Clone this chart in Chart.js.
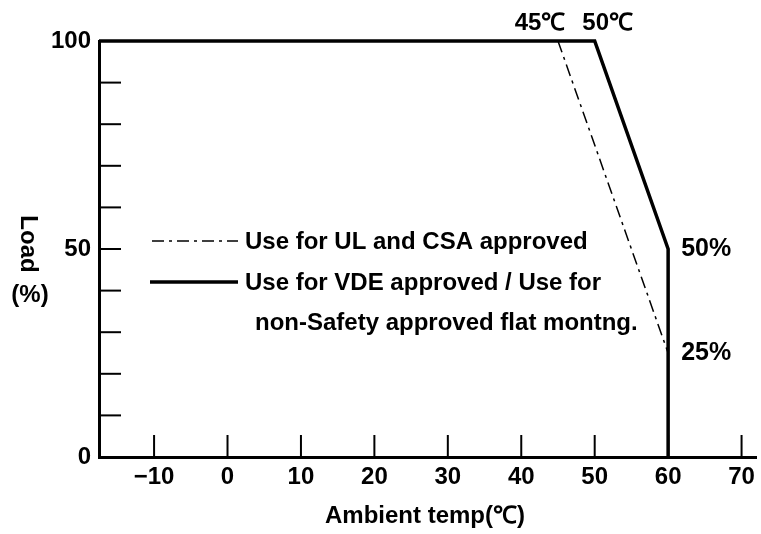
<!DOCTYPE html>
<html>
<head>
<meta charset="utf-8">
<script src="https://cdn.jsdelivr.net/npm/chart.js@4.4.1/dist/chart.umd.min.js"></script>
<style>
  html, body { margin: 0; padding: 0; background: #fff; }
  #wrap { width: 761px; height: 534px; }
</style>
</head>
<body>
<div id="wrap"><canvas id="derating" width="761" height="534"></canvas></div>
<script>
// data
const ulTemps = [45, 60, 60];
const ulLoad = [100, 25, 0];
const vdeTemps = [-17.5, 50, 60, 60];
const vdeLoad = [100, 100, 50, 0];
const xTicks = [-10, 0, 10, 20, 30, 40, 50, 60, 70];
const yTicks = [0, 10, 20, 30, 40, 50, 60, 70, 80, 90, 100];
const yLabels = [0, 50, 100];

const FONT = '"Liberation Sans", Arial, sans-serif';

function toPoints(xs, ys) {
    return xs.map((x, i) => ({ x: x, y: ys[i] }));
}

// inward ticks, labels and legend drawn over the chart
const extras = {
    id: 'extras',
    afterDraw(chart) {
        const ctx = chart.ctx;
        const xs = chart.scales.x, ys = chart.scales.y;
        const area = chart.chartArea;
        ctx.save();
        ctx.strokeStyle = '#000';
        ctx.lineWidth = 2;
        xTicks.forEach(v => {
            const px = xs.getPixelForValue(v);
            ctx.beginPath();
            ctx.moveTo(px, area.bottom);
            ctx.lineTo(px, area.bottom - 22);
            ctx.stroke();
        });
        yTicks.forEach(v => {
            if (v === 0 || v === 100) return;
            const py = ys.getPixelForValue(v);
            ctx.beginPath();
            ctx.moveTo(area.left, py);
            ctx.lineTo(area.left + 22, py);
            ctx.stroke();
        });

        ctx.fillStyle = '#000';
        ctx.font = 'bold 24px ' + FONT;
        ctx.textBaseline = 'middle';
        ctx.textAlign = 'center';
        ctx.fillText('45\u2103', xs.getPixelForValue(45) - 18, area.top - 18);
        ctx.fillText('50\u2103', xs.getPixelForValue(50) + 13, area.top - 18);

        ctx.textAlign = 'left';
        ctx.font = 'bold 25px ' + FONT;
        ctx.fillText('50%', xs.getPixelForValue(60) + 13, ys.getPixelForValue(50));
        ctx.fillText('25%', xs.getPixelForValue(60) + 13, ys.getPixelForValue(25));

        // legend
        ctx.lineWidth = 1.5;
        ctx.setLineDash([12, 5, 3, 5]);
        ctx.beginPath();
        ctx.moveTo(152, 241);
        ctx.lineTo(238, 241);
        ctx.stroke();
        ctx.setLineDash([]);
        ctx.lineWidth = 3.5;
        ctx.beginPath();
        ctx.moveTo(150, 282);
        ctx.lineTo(238, 282);
        ctx.stroke();
        ctx.font = 'bold 24px ' + FONT;
        ctx.fillText('Use for UL and CSA approved', 245, 242);
        ctx.fillText('Use for VDE approved / Use for', 245, 283);
        ctx.fillText('non-Safety approved flat montng.', 255, 323);

        // axis titles
        ctx.textAlign = 'center';
        ctx.font = 'bold 24px ' + FONT;
        ctx.fillText('Ambient temp(\u2103)', 425, 516);
        ctx.fillText('(%)', 30, 295);
        ctx.save();
        ctx.translate(28, 244);
        ctx.rotate(Math.PI / 2);
        ctx.fillText('Load', 0, 0);
        ctx.restore();
        ctx.restore();
    }
};

new Chart(document.getElementById('derating').getContext('2d'), {
    type: 'scatter',
    data: {
        datasets: [
            {
                label: 'Use for UL and CSA approved',
                data: toPoints(ulTemps, ulLoad),
                showLine: true,
                clip: false,
                borderColor: '#000',
                borderWidth: 1.5,
                borderDash: [12, 5, 3, 5],
                pointRadius: 0,
                tension: 0
            },
            {
                label: 'Use for VDE approved / Use for non-Safety approved flat montng.',
                data: toPoints(vdeTemps, vdeLoad),
                showLine: true,
                clip: false,
                borderColor: '#000',
                borderWidth: 3.5,
                pointRadius: 0,
                tension: 0
            }
        ]
    },
    options: {
        responsive: false,
        animation: false,
        layout: { padding: { top: 41, right: 4, left: 0, bottom: 0 } },
        plugins: {
            legend: { display: false },
            tooltip: { enabled: false }
        },
        scales: {
            x: {
                type: 'linear',
                min: -17.5,
                max: 72,
                afterBuildTicks: s => { s.ticks = xTicks.map(v => ({ value: v })); },
                afterFit: s => { s.height = 77; },
                grid: { drawOnChartArea: false, drawTicks: false },
                border: { display: true, color: '#000', width: 3 },
                ticks: {
                    color: '#000',
                    padding: 6,
                    font: { family: FONT, size: 24, weight: 'bold' },
                    callback: v => (v < 0 ? '\u2212' + Math.abs(v) : String(v))
                }
            },
            y: {
                type: 'linear',
                min: 0,
                max: 100,
                afterBuildTicks: s => { s.ticks = yLabels.map(v => ({ value: v })); },
                afterFit: s => { s.width = 99; },
                grid: { drawOnChartArea: false, drawTicks: false },
                border: { display: true, color: '#000', width: 3 },
                ticks: {
                    color: '#000',
                    padding: 8,
                    font: { family: FONT, size: 24, weight: 'bold' }
                }
            }
        }
    },
    plugins: [extras]
});
</script>
</body>
</html>
